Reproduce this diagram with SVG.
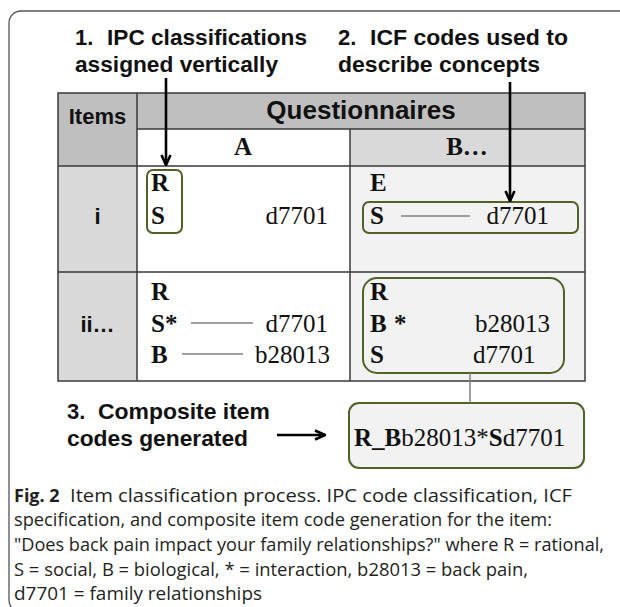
<svg xmlns="http://www.w3.org/2000/svg" width="620" height="607" viewBox="0 0 620 607">
  <defs>
    <marker id="head" viewBox="0 0 12 12" refX="11" refY="6" markerWidth="12" markerHeight="12" markerUnits="userSpaceOnUse" orient="auto">
      <path d="M1,1.5 L11,6 L1,10.5" fill="none" stroke="#000" stroke-width="2.6" stroke-linejoin="miter"/>
    </marker>
    <style>
      .lbl { font-family: "Liberation Sans", Arial, sans-serif; font-weight: bold; font-size: 22px; fill: #111; }
      .hdr { font-family: "Liberation Sans", Arial, sans-serif; font-weight: bold; fill: #111; }
      .cell { font-family: "Liberation Serif", "Times New Roman", serif; font-size: 25px; fill: #111; }
      .b { font-weight: bold; }
      .grid { stroke: #3a3a3a; stroke-width: 1.5; fill: none; }
      .dash { stroke: #808080; stroke-width: 1.5; }
      .grp { fill: none; stroke: #4f6228; stroke-width: 2; }
      .arrow { stroke: #000; stroke-width: 2.6; fill: none; }
      .cap { font-family: "Open Sans", "Noto Sans", sans-serif; font-size: 18px; fill: #231f20; }
    </style>
  </defs>

  <!-- figure frame (open on the right) -->
  <rect x="9" y="11" width="700" height="601" rx="12" fill="#fff" stroke="#555" stroke-width="1.3"/>

  <!-- step labels -->
  <g id="label-ipc">
    <text class="lbl" x="75" y="45">1.<tspan x="107" textLength="200" lengthAdjust="spacingAndGlyphs">IPC classifications</tspan></text>
    <text class="lbl" x="75" y="72" textLength="203" lengthAdjust="spacingAndGlyphs">assigned vertically</text>
  </g>
  <g id="label-icf">
    <text class="lbl" x="338" y="45">2.<tspan x="370" textLength="198" lengthAdjust="spacingAndGlyphs">ICF codes used to</tspan></text>
    <text class="lbl" x="338" y="72" textLength="202" lengthAdjust="spacingAndGlyphs">describe concepts</text>
  </g>

  <!-- table -->
  <g id="table">
    <rect x="58" y="93" width="79" height="73" fill="#bfbfbf"/>
    <rect x="137" y="93" width="448" height="36" fill="#bfbfbf"/>
    <rect x="137" y="129" width="213" height="37" fill="#fff"/>
    <rect x="350" y="129" width="235" height="37" fill="#d9d9d9"/>
    <rect x="58" y="166" width="79" height="215" fill="#d9d9d9"/>
    <rect x="137" y="166" width="213" height="215" fill="#fff"/>
    <rect x="350" y="166" width="235" height="215" fill="#f2f2f2"/>
    <rect class="grid" x="58" y="93" width="527" height="288"/>
    <path class="grid" d="M137,129 H585 M58,166 H585 M58,272 H585 M137,93 V381 M350,129 V381"/>
    <text class="hdr" x="97.5" y="124" font-size="22" text-anchor="middle">Items</text>
    <text class="hdr" x="361" y="119" font-size="26" text-anchor="middle">Questionnaires</text>
    <text class="cell b" x="243" y="155" font-size="24" text-anchor="middle">A</text>
    <text class="cell b" x="467" y="155" font-size="24" text-anchor="middle">B…</text>
    <text class="hdr" x="97.5" y="224" font-size="22" text-anchor="middle">i</text>
    <text class="hdr" x="97.5" y="332" font-size="22" text-anchor="middle">ii…</text>
  </g>

  <!-- item i, questionnaire A -->
  <g id="cell-i-a">
    <rect class="grp" x="147" y="170" width="35" height="63" rx="6"/>
    <text class="cell b" x="151" y="191">R</text>
    <text class="cell b" x="151" y="224">S</text>
    <text class="cell" x="328" y="224" text-anchor="end">d7701</text>
  </g>

  <!-- item i, questionnaire B -->
  <g id="cell-i-b">
    <rect class="grp" x="363" y="202" width="215" height="31" rx="6"/>
    <text class="cell b" x="370" y="191">E</text>
    <text class="cell b" x="370" y="224">S</text>
    <line class="dash" x1="401" y1="216" x2="470" y2="216"/>
    <text class="cell" x="549" y="224" text-anchor="end">d7701</text>
  </g>

  <!-- item ii, questionnaire A -->
  <g id="cell-ii-a">
    <text class="cell b" x="151" y="300">R</text>
    <text class="cell b" x="151" y="332">S*</text>
    <text class="cell b" x="151" y="363">B</text>
    <line class="dash" x1="191" y1="323" x2="253" y2="323"/>
    <line class="dash" x1="182" y1="354" x2="243" y2="354"/>
    <text class="cell" x="328" y="332" text-anchor="end">d7701</text>
    <text class="cell" x="330" y="363" text-anchor="end">b28013</text>
  </g>

  <!-- item ii, questionnaire B -->
  <g id="cell-ii-b">
    <rect class="grp" x="363" y="278" width="201" height="95" rx="14"/>
    <text class="cell b" x="370" y="300">R</text>
    <text class="cell b" x="370" y="332">B<tspan x="394">*</tspan></text>
    <text class="cell b" x="370" y="363">S</text>
    <text class="cell" x="475" y="332">b28013</text>
    <text class="cell" x="473" y="363">d7701</text>
  </g>

  <!-- composite code -->
  <g id="label-composite">
    <text class="lbl" x="67" y="419">3.<tspan x="98" textLength="172" lengthAdjust="spacingAndGlyphs">Composite item</tspan></text>
    <text class="lbl" x="67" y="446" textLength="181" lengthAdjust="spacingAndGlyphs">codes generated</text>
  </g>
  <g id="composite-code">
    <rect x="349" y="403" width="235" height="65" rx="10" fill="#f2f2f2" stroke="#4f6228" stroke-width="2"/>
    <text class="cell" x="354" y="446" font-size="26"><tspan class="b">R_B</tspan>b28013*<tspan class="b">S</tspan>d7701</text>
  </g>

  <!-- connectors -->
  <g id="connectors">
    <line class="arrow" x1="166" y1="78" x2="166" y2="165" marker-end="url(#head)"/>
    <line class="arrow" x1="510" y1="82" x2="510" y2="201" marker-end="url(#head)"/>
    <line class="arrow" x1="277" y1="435" x2="325" y2="435" marker-end="url(#head)"/>
    <line x1="470" y1="373" x2="470" y2="403" stroke="#808080" stroke-width="1.5"/>
  </g>

  <!-- caption -->
  <g id="caption">
    <text class="cap" x="14" y="502"><tspan font-weight="bold">Fig. 2</tspan><tspan x="70" textLength="502" lengthAdjust="spacingAndGlyphs">Item classification process. IPC code classification, ICF</tspan></text>
    <text class="cap" x="14" y="526" textLength="538" lengthAdjust="spacingAndGlyphs">specification, and composite item code generation for the item:</text>
    <text class="cap" x="14" y="551" textLength="590" lengthAdjust="spacingAndGlyphs">"Does back pain impact your family relationships?" where R = rational,</text>
    <text class="cap" x="14" y="576" textLength="514" lengthAdjust="spacingAndGlyphs">S = social, B = biological, * = interaction, b28013 = back pain,</text>
    <text class="cap" x="14" y="600" textLength="248" lengthAdjust="spacingAndGlyphs">d7701 = family relationships</text>
  </g>
</svg>
